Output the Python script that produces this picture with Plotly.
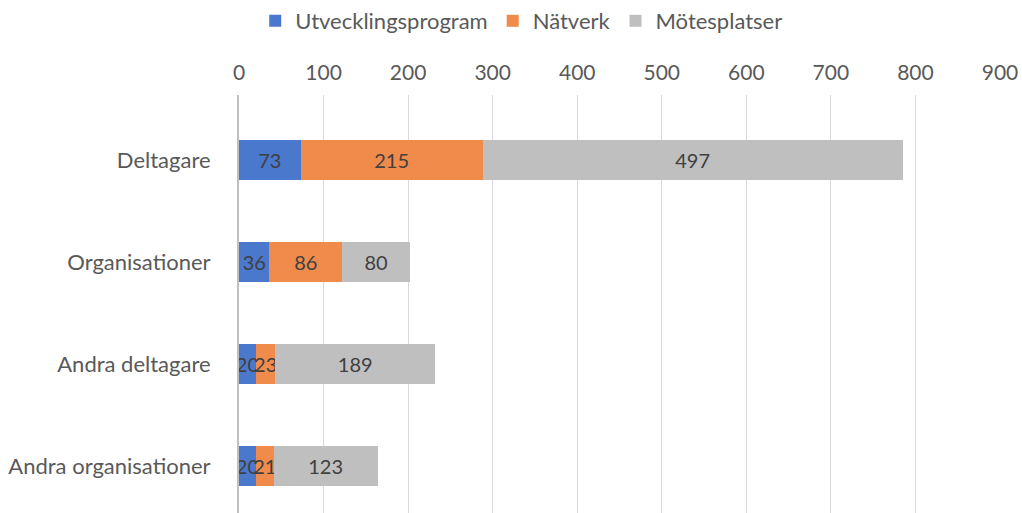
import plotly.graph_objects as go

categories = ["Deltagare", "Organisationer", "Andra deltagare", "Andra organisationer"]
utveckling = [73, 36, 20, 20]
natverk = [215, 86, 23, 21]
motesplatser = [497, 80, 189, 123]
x_ticks = [0, 100, 200, 300, 400, 500, 600, 700, 800, 900]

series = [
    ("Utvecklingsprogram", utveckling, "#4a78cc"),
    ("Nätverk", natverk, "#f08b4c"),
    ("Mötesplatser", motesplatser, "#bfbfbf"),
]

FONT = "Lato"

fig = go.Figure()
for name, vals, col in series:
    fig.add_trace(go.Bar(
        y=categories, x=vals, name=name, orientation="h",
        marker=dict(color=col, line=dict(width=0)),
        text=[str(v) for v in vals], textposition="inside",
        insidetextanchor="middle", constraintext="none",
        textfont=dict(color="#404040", size=20, family=FONT),
    ))

fig.update_layout(
    barmode="stack",
    bargap=0.6,
    width=1022, height=513,
    paper_bgcolor="white", plot_bgcolor="white",
    margin=dict(l=239, r=22, t=95, b=0),
    font=dict(family=FONT, size=21, color="#595959"),
    legend=dict(orientation="h", x=0.51, xref="container", xanchor="center",
                y=1.0, yref="container", yanchor="top",
                traceorder="normal",
                font=dict(size=22, color="#595959", family=FONT)),
    uniformtext=dict(minsize=10, mode="show"),
    showlegend=True,
)
fig.update_xaxes(
    side="top", range=[0, 900], tickvals=x_ticks, ticktext=[str(t) for t in x_ticks],
    showgrid=True, gridcolor="#d9d9d9", gridwidth=1, zeroline=False,
    tickfont=dict(size=21, color="#595959", family=FONT), ticks="", ticklabelstandoff=10,
    automargin=False,
)
fig.update_yaxes(
    categoryorder="array", categoryarray=categories,
    range=[3.46, -0.637], showgrid=False, zeroline=False,
    showline=True, linecolor="#bfbfbf", linewidth=2,
    ticks="", ticklabelstandoff=22, tickfont=dict(size=22, color="#595959", family=FONT),
    automargin=False,
)

fig.write_html(
    "out.html",
    config={"displayModeBar": False},
    post_script="document.body.style.margin='0';document.body.style.overflow='hidden';",
)
